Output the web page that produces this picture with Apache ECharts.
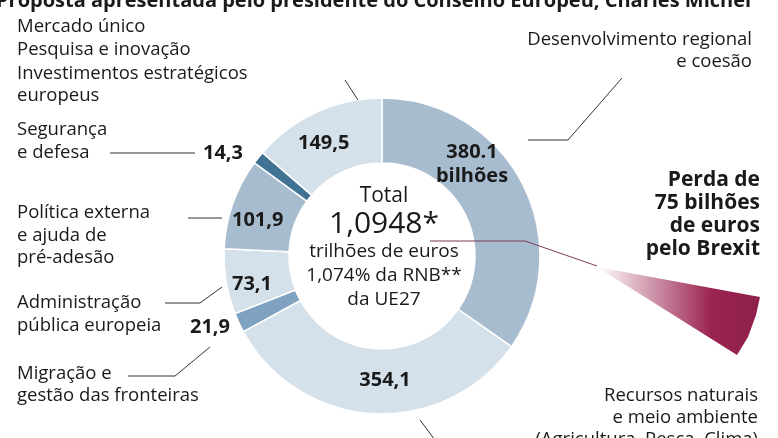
<!DOCTYPE html>
<html><head><meta charset="utf-8">
<script src="https://cdn.jsdelivr.net/npm/echarts@6/dist/echarts.min.js"></script>
<style>html,body{margin:0;padding:0;background:#fff}#c{width:778px;height:438px}</style>
</head><body><div id="c"></div>
<script>
const categories = ['Desenvolvimento regional e coesão','Recursos naturais e meio ambiente','Migração e gestão das fronteiras','Administração pública europeia','Política externa e ajuda de pré-adesão','Segurança e defesa','Mercado único, pesquisa e investimentos'];
const values = [380.1, 354.1, 21.9, 73.1, 101.9, 14.3, 149.5];
const colors = ['#a8bccf','#d5e1ea','#7fa2c0','#d5e1ea','#a8bccf','#3f7293','#d5e1ea'];
const valueLabels = ['380.1','354,1','21,9','73,1','101,9','14,3','149,5'];
const F = '"Open Sans", sans-serif';
const chart = echarts.init(document.getElementById('c'));
function t(x,y,text,o){return {type:'text',x:x,y:y,z:100,style:Object.assign({text:text,font:'18.5px '+F,fill:'#1a1a1a',textVerticalAlign:'middle'},o||{})};}
function tb(x,y,text,align,size){return t(x,y,text,{font:'bold '+(size||20)+'px '+F,textAlign:align||'left'});}
function ln(pts,color){return {type:'polyline',z:100,shape:{points:pts},style:{stroke:color||'#333',lineWidth:1,fill:null},silent:true};}
const g = [
  tb(-4,1,'Proposta apresentada pelo presidente do Conselho Europeu, Charles Michel','left',20),
  t(17,27,'Mercado único'),t(17,50,'Pesquisa e inovação'),t(17,74,'Investimentos estratégicos'),t(17,96,'europeus'),
  ln([[345,80],[358,100]]),
  t(17,130,'Segurança'),t(17,153,'e defesa'),ln([[110,153],[195,153]]),
  t(17,213,'Política externa'),t(17,236,'e ajuda de'),t(17,258,'pré-adesão'),ln([[188,218],[222,218]]),
  t(17,303,'Administração'),t(17,326,'pública europeia'),ln([[165,303],[200,303],[222,287]]),
  t(17,374,'Migração e'),t(17,396,'gestão das fronteiras'),ln([[128,376],[175,376],[210,347]]),
  t(752,40,'Desenvolvimento regional',{textAlign:'right'}),t(752,62,'e coesão',{textAlign:'right'}),
  ln([[528,140],[568,140],[622,78]]),
  tb(760,180,'Perda de','right',21),tb(760,203,'75 bilhões','right',21),tb(760,226,'de euros','right',21),tb(760,249,'pelo Brexit','right',21),
  t(758,396,'Recursos naturais',{textAlign:'right'}),t(758,418,'e meio ambiente',{textAlign:'right'}),t(758,440,'(Agricultura, Pesca, Clima)',{textAlign:'right'}),
  ln([[420,420],[435,440]]),
  ln([[430,241],[525,241],[597,266]],'#7a3b5a'),
  {type:'polygon',z:100,shape:{points:[[597,267],[760,297],[756,315],[748,337],[737,355]]},silent:true,
   style:{fill:new echarts.graphic.LinearGradient(0,0,1,0,[{offset:0,color:'rgba(155,36,82,0)'},{offset:0.7,color:'#9b2452'},{offset:1,color:'#8e1f4b'}])}},
  tb(472,152,valueLabels[0],'center'),tb(472,176,'bilhões','center'),
  tb(385,380,valueLabels[1],'center'),
  tb(190,327,valueLabels[2]),
  tb(232,284,valueLabels[3]),
  tb(232,220,valueLabels[4]),
  tb(203,153,valueLabels[5]),
  tb(298,143,valueLabels[6]),
  t(384,196,'Total',{textAlign:'center',font:'21px '+F}),
  t(384,224,'1,0948*',{textAlign:'center',font:'30px '+F}),
  t(384,252,'trilhões de euros',{textAlign:'center',font:'19px '+F}),
  t(384,276,'1,074% da RNB**',{textAlign:'center',font:'19px '+F}),
  t(384,300,'da UE27',{textAlign:'center',font:'19px '+F})
];
chart.setOption({
  animation:false,
  series:[{type:'pie',z:1,center:[382,256],radius:[93,158],startAngle:90,clockwise:true,
    label:{show:false},labelLine:{show:false},
    itemStyle:{borderColor:'#fff',borderWidth:1.5},
    data:values.map((v,i)=>({name:categories[i],value:v,itemStyle:{color:colors[i]}}))}],
  graphic:g
});
</script></body></html>
